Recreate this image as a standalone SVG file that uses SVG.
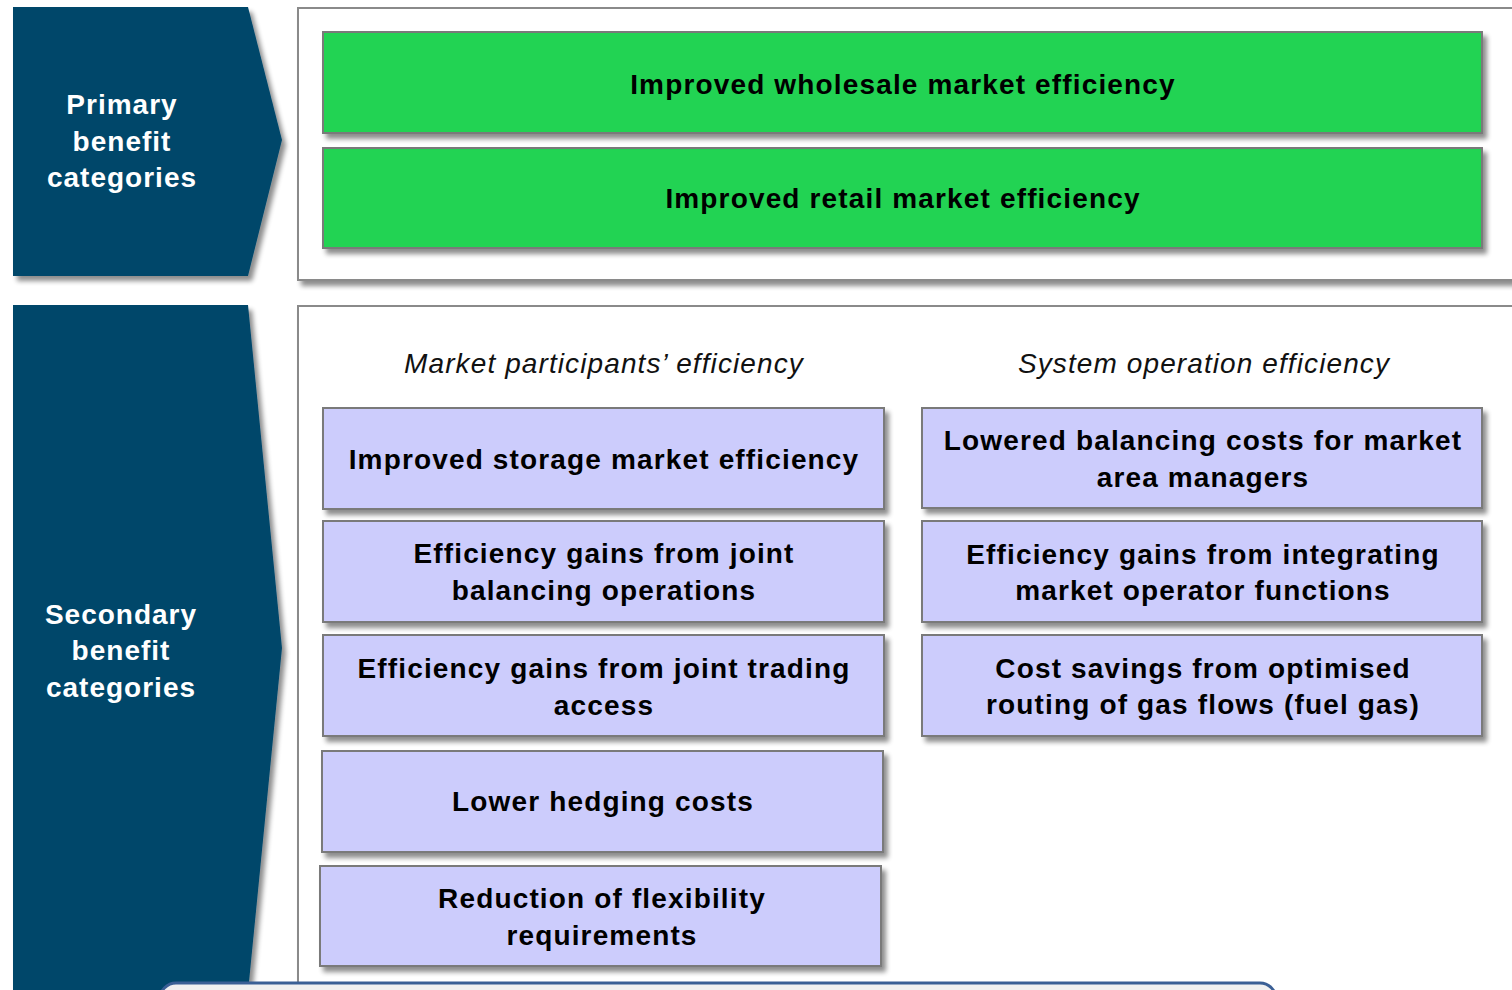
<svg xmlns="http://www.w3.org/2000/svg" width="1512" height="990" viewBox="0 0 1512 990">
<defs>
<filter id="sh" x="-5%" y="-10%" width="115%" height="130%">
<feGaussianBlur in="SourceAlpha" stdDeviation="2.5"/>
<feOffset dx="4" dy="5" result="b"/>
<feComponentTransfer><feFuncA type="linear" slope="0.45"/></feComponentTransfer>
<feMerge><feMergeNode/><feMergeNode in="SourceGraphic"/></feMerge>
</filter>
</defs>
<style>
.chev{fill:#03476A;filter:url(#sh)}
.panel{fill:#FFFFFF;stroke:#8A8A8A;stroke-width:2;filter:url(#sh)}
.green{fill:#20D353;stroke:#7A7A7A;stroke-width:2;filter:url(#sh)}
.purple{fill:#CCCCFC;stroke:#7A7A7A;stroke-width:2;filter:url(#sh)}
.wt{font-family:"Liberation Sans",Arial,sans-serif;font-weight:bold;font-size:28px;fill:#FFFFFF;text-anchor:middle;letter-spacing:1px}
.bt{font-family:"Liberation Sans",Arial,sans-serif;font-weight:bold;font-size:28px;fill:#000000;text-anchor:middle;letter-spacing:1.15px}
.it{font-family:"Liberation Sans",Arial,sans-serif;font-style:italic;font-size:28px;fill:#111111;text-anchor:middle;letter-spacing:1.1px}
</style>
<rect width="1512" height="990" fill="#FFFFFF"/>

<g id="primary-chevron">
<polygon class="chev" points="13,7 248,7 282,140 248,276 13,276"/>
<text class="wt" x="122" y="114">Primary</text>
<text class="wt" x="122" y="151">benefit</text>
<text class="wt" x="122" y="187">categories</text>
</g>
<g id="secondary-chevron">
<polygon class="chev" points="13,305 248,305 282,648 248,992 13,992"/>
<text class="wt" x="121" y="624">Secondary</text>
<text class="wt" x="121" y="660">benefit</text>
<text class="wt" x="121" y="697">categories</text>
</g>

<g id="primary-panel">
<rect class="panel" x="298" y="8" width="1230" height="272"/>
</g>
<g id="secondary-panel">
<rect class="panel" x="298" y="306" width="1230" height="700"/>
</g>

<g id="wholesale">
<rect class="green" x="323" y="32" width="1159" height="101"/>
<text class="bt" x="903" y="94">Improved wholesale market efficiency</text>
</g>
<g id="retail">
<rect class="green" x="323" y="148" width="1159" height="100"/>
<text class="bt" x="903" y="208">Improved retail market efficiency</text>
</g>

<g id="headers">
<text class="it" x="604" y="373">Market participants’ efficiency</text>
<text class="it" x="1204" y="373">System operation efficiency</text>
</g>

<g id="storage">
<rect class="purple" x="323" y="408" width="561" height="101"/>
<text class="bt" x="604" y="469">Improved storage market efficiency</text>
</g>
<g id="joint-balancing">
<rect class="purple" x="323" y="521" width="561" height="101"/>
<text class="bt" x="604" y="563">Efficiency gains from joint</text>
<text class="bt" x="604" y="600">balancing operations</text>
</g>
<g id="joint-trading">
<rect class="purple" x="323" y="635" width="561" height="101"/>
<text class="bt" x="604" y="678">Efficiency gains from joint trading</text>
<text class="bt" x="604" y="715">access</text>
</g>
<g id="hedging">
<rect class="purple" x="322" y="751" width="561" height="101"/>
<text class="bt" x="603" y="811">Lower hedging costs</text>
</g>
<g id="flexibility">
<rect class="purple" x="320" y="866" width="561" height="100"/>
<text class="bt" x="602" y="908">Reduction of flexibility</text>
<text class="bt" x="602" y="945">requirements</text>
</g>

<g id="balancing-costs">
<rect class="purple" x="922" y="408" width="560" height="100"/>
<text class="bt" x="1203" y="450">Lowered balancing costs for market</text>
<text class="bt" x="1203" y="487">area managers</text>
</g>
<g id="market-operator">
<rect class="purple" x="922" y="521" width="560" height="101"/>
<text class="bt" x="1203" y="564">Efficiency gains from integrating</text>
<text class="bt" x="1203" y="600">market operator functions</text>
</g>
<g id="routing">
<rect class="purple" x="922" y="635" width="560" height="101"/>
<text class="bt" x="1203" y="678">Cost savings from optimised</text>
<text class="bt" x="1203" y="714">routing of gas flows (fuel gas)</text>
</g>

<g id="connectors"></g>

<g id="bottom-bar">
<rect x="160" y="983" width="1116" height="40" rx="16" ry="16" fill="#F0F0F0" stroke="#3A5F95" stroke-width="3"/>
</g>
</svg>
